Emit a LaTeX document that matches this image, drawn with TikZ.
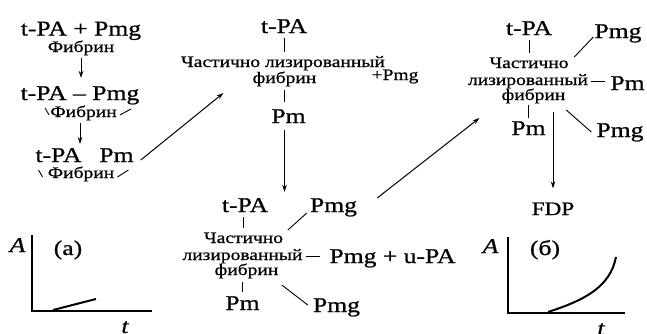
\documentclass[tikz,border=0pt]{standalone}
\usepackage{fontspec}
\setmainfont[FakeStretch=1.22,FakeBold=0.8]{Liberation Serif}
\usetikzlibrary{arrows.meta,calc}
\begin{document}
\begin{tikzpicture}[x=1pt,y=-1pt,
  big/.style={font=\fontsize{21}{24}\selectfont, inner sep=0pt, anchor=base},
  small/.style={font=\fontsize{16}{18}\selectfont, inner sep=0pt, anchor=base},
  mid/.style={font=\fontsize{19}{22}\selectfont, inner sep=0pt, anchor=base},
  var/.style={font=\fontsize{21}{24}\selectfont\itshape, inner sep=0pt, anchor=base},
  link/.style={line width=0.9pt},
  arr/.style={line width=1pt, -{Stealth[length=7pt,width=4.5pt]}},
  axis/.style={line width=1.2pt},
  rate/.style={line width=2pt}]
\useasboundingbox (0,0) rectangle (647,333);

% --- left column: binding and first activation
\node[big]   (r1)   at (81,35.5) {t-PA + Pmg};
\node[small] (fib1) at (81,52)   {Фибрин};
\node[big]   (r2)   at (80,100)  {t-PA – Pmg};
\node[small] (fib2) at (83.5,117){Фибрин};
\node[big]   (tpa3) at (58.5,162){t-PA};
\node[big]   (pm3)  at (116.5,162){Pm};
\node[small] (fib3) at (81,178)  {Фибрин};

\draw[arr, shorten <=2pt, shorten >=8pt] (fib1.south) -- (fib1.south |- r2.north);
\draw[arr, shorten <=2.5pt, shorten >=4pt] (r2.south |- fib2.south) -- (r2.south |- tpa3.north);
\draw[link] ($(fib2.base west)+(-5,-9)$) -- ($(fib2.base west)+(-1,-2)$);
\draw[link] ($(fib2.base east)+(3,-2)$) -- ($(fib2.base east)+(14,-8)$);
\draw[link] ($(fib3.base west)+(-9,-8)$) -- ($(fib3.base west)+(-5,-1)$);
\draw[link] ($(fib3.base east)+(3,-1)$) -- ($(fib3.base east)+(14,-8)$);

% --- middle top: partly lysed fibrin
\node[big]   (tpaB)  at (284,33)   {t-PA};
\node[small] (lysB1) at (283,67)   {Частично лизированный};
\node[small] (lysB2) at (284.5,83) {фибрин};
\node[small] (plusB) at (395,80)   {+Pmg};
\node[big]   (pmB)   at (288.5,123){Pm};

\draw[link, shorten <=5pt, shorten >=4pt] (tpaB.south) -- (tpaB.south |- lysB1.north);
\draw[link, shorten <=3.5pt, shorten >=7pt] (lysB2.south) -- (lysB2.south |- pmB.north);
\draw[arr] ($(pm3.base east)+(7,-2)$) -- ($(lysB2.base west)+(-29,10)$);

% --- middle bottom: more plasminogen bound
\node[big]   (tpaC)  at (245,212)   {t-PA};
\node[big]   (pmgC1) at (333.5,212) {Pmg};
\node[small] (lysC1) at (243.5,243) {Частично};
\node[small] (lysC2) at (242.5,260) {лизированный};
\node[small] (lysC3) at (246.5,275) {фибрин};
\node[big]   (pmgC2) at (392.5,263) {Pmg + u-PA};
\node[big]   (pmC)   at (242.5,310) {Pm};
\node[big]   (pmgC3) at (336.5,312) {Pmg};

\draw[arr, shorten <=7pt, shorten >=6pt] (pmB.south -| lysB2.south) -- (lysB2.south |- tpaC.north);
\draw[link, shorten <=5pt, shorten >=4.4pt] (tpaC.south -| lysC1.north) -- (lysC1.north);
\draw[link, shorten <=3.5pt, shorten >=4pt] (pmC.north |- lysC3.south) -- (pmC.north);
\draw[link] ($(pmgC1.base west)+(-3,1)$) -- ($(pmgC1.base west)+(-22,18)$);
\draw[link] ($(pmgC3.base west)+(-31,-27)$) -- ($(pmgC3.base west)+(-5,-7)$);
\draw[link, shorten <=3pt, shorten >=9pt] (lysC2.east) -- (lysC2.east -| pmgC2.west);

% --- right column: degradation products
\node[big]   (tpaD)  at (529,35)   {t-PA};
\node[big]   (pmgD1) at (618,38)   {Pmg};
\node[small] (lysD1) at (529,68)   {Частично};
\node[small] (lysD2) at (528,85)   {лизированный};
\node[small] (lysD3) at (533.5,100){фибрин};
\node[big]   (pmD1)  at (627.5,90) {Pm};
\node[big]   (pmD2)  at (528.5,135){Pm};
\node[big]   (pmgD2) at (620,137)  {Pmg};
\node[mid]   (fdp)   at (553,215)  {FDP};

\draw[arr] ($(pmgC1.base east)+(20,-14)$) -- ($(lysD3.base west)+(-22,18)$);
\draw[link, shorten <=5pt, shorten >=4.4pt] (tpaD.south) -- (tpaD.south |- lysD1.north);
\draw[link, shorten <=1.5pt, shorten >=3pt] (pmD2.north |- lysD3.south) -- (pmD2.north);
\draw[link] ($(pmgD1.base west)+(-1,-1)$) -- ($(pmgD1.base west)+(-20,19)$);
\draw[link] ($(pmgD2.base west)+(-30,-27)$) -- ($(pmgD2.base west)+(-5,-5)$);
\draw[link, shorten <=3pt, shorten >=5pt] (lysD2.east) -- (lysD2.east -| pmD1.west);
\draw[arr, shorten <=8.5pt, shorten >=14pt] (fdp.north |- lysD3.south) -- (fdp.north);

% --- activity plots
\node[var] (Aa) at (17.5,252) {A};
\node[big] (la) at (68,255) {(а)};
\node[var] (ta) at (125,333) {t};
\draw[axis] (32,235) -- (32,311) -- (152,311);
\draw[rate] (53,310) -- (96,299);

\node[var] (Ab) at (490.5,253) {A};
\node[big] (lb) at (545,255) {(б)};
\node[var] (tb) at (601,335) {t};
\draw[axis] (508,237) -- (508,313) -- (625,313);
\draw[rate] (548,312) .. controls (585,300) and (610,287) .. (616,257);
\end{tikzpicture}
\end{document}
